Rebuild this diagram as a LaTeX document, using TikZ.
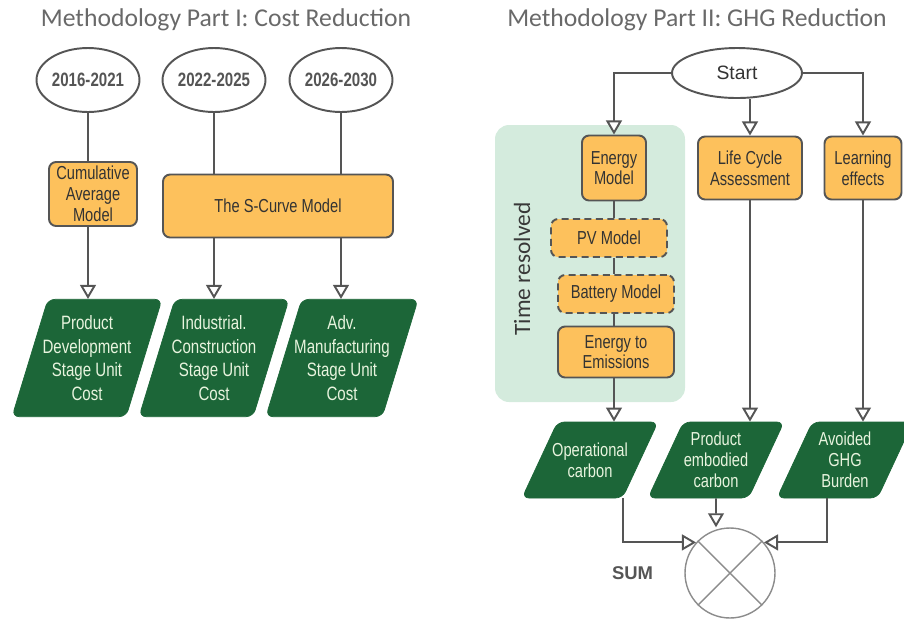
\documentclass[tikz,border=0pt]{standalone}
\usepackage{fontspec}
\setmainfont{Liberation Sans}
\newfontfamily\titlefont{Carlito}
\newfontfamily\boxfont{Liberation Sans}[FakeStretch=0.78]
\usetikzlibrary{arrows.meta,%
                shapes,positioning}
\definecolor{linegrey}{RGB}{85,85,85}
\definecolor{titlegrey}{RGB}{105,105,105}
\definecolor{boxorange}{RGB}{253,193,92}
\definecolor{costgreen}{RGB}{28,102,56}
\definecolor{costtext}{RGB}{232,244,222}
\definecolor{timegreen}{RGB}{212,235,221}

\begin{document}
\begin{tikzpicture}[x=0.02cm,y=-0.02cm,
  link/.style={draw=linegrey,line width=1.1pt},
  arr/.style={link,-{Triangle[fill=white,width=9pt,length=8pt]}},
  heading/.style={font=\titlefont\fontsize{14.6}{16}\selectfont,text=titlegrey},
  yearnode/.style={ellipse,draw=linegrey,line width=1.1pt,fill=white,inner sep=0pt,
    minimum width=2.06cm,minimum height=1.28cm,text=linegrey,
    font=\boxfont\bfseries\fontsize{11}{13}\selectfont},
  modelbox/.style={rectangle,rounded corners=4pt,draw=linegrey,line width=1.1pt,
    fill=boxorange,align=center,inner sep=1pt,text=black!80,
    font=\boxfont\fontsize{10.7}{11.8}\selectfont},
  dashbox/.style={modelbox,dashed,dash pattern=on 4pt off 2.5pt},
  costbox/.style={trapezium,trapezium left angle=73,trapezium right angle=107,
    trapezium stretches body,rounded corners=4pt,fill=costgreen,draw=costgreen,
    minimum width=3cm,minimum height=2.28cm,align=center,inner xsep=-0.15cm,inner ysep=0.32cm,
    text=costtext,font=\boxfont\fontsize{11}{13.5}\selectfont},
  carbonbox/.style={costbox,trapezium left angle=64,trapezium right angle=116,
    minimum width=2.72cm,minimum height=1.52cm,inner ysep=0.17cm,
    font=\boxfont\fontsize{10.7}{11.9}\selectfont},
  startnode/.style={ellipse,draw=linegrey,line width=1.1pt,fill=white,inner sep=0pt,
    minimum width=2.6cm,minimum height=1cm,text=black!80,
    font=\fontsize{11}{13}\selectfont},
  sumnode/.style={circle,draw=black!45,line width=0.8pt,minimum size=1.8cm,inner sep=0pt}]
\useasboundingbox (0,0) rectangle (904,620);

\node[heading] (head1) at (226,20) {Methodology Part I: Cost Reduction};
\node[heading] (head2) at (697,20) {Methodology Part II: GHG Reduction};

\node[yearnode] (y1) at (88,80) {2016-2021};
\node[yearnode] (y2) at (214,80) {2022-2025};
\node[yearnode] (y3) at (341,80) {2026-2030};
\node[modelbox,minimum width=1.76cm,minimum height=1.28cm] (cam) at (93,194) {Cumulative\\Average\\Model};
\node[modelbox,minimum width=4.6cm,minimum height=1.26cm] (scm) at (278,206) {The S-Curve Model};
\node[costbox] (c1) at (87,358) {Product\\Development\\Stage Unit\\Cost};
\node[costbox] (c2) at (214,358) {Industrial.\\Construction\\Stage Unit\\Cost};
\node[costbox] (c3) at (342,358) {Adv.\\Manufacturing\\Stage Unit\\Cost};

\draw[link] (y1) -- (y1 |- cam.north);
\draw[link] (y2) -- (y2 |- scm.north);
\draw[link] (y3) -- (y3 |- scm.north);
\draw[arr] (y1 |- cam.south) -- (y1 |- c1.north);
\draw[arr] (y2 |- scm.south) -- (y2 |- c2.north);
\draw[arr] (y3 |- scm.south) -- (y3 |- c3.north);

% time resolved block
\fill[timegreen,rounded corners=8pt] (495,125) rectangle (685,402);
\node[rotate=90,font=\titlefont\fontsize{13.3}{15}\selectfont,text=black!78] (trlabel) at (522,269) {Time resolved};

\node[startnode] (start) at (737,73) {Start};
\node[modelbox,minimum width=1.28cm,minimum height=1.3cm] (energy) at (614,168) {Energy\\Model};
\node[modelbox,minimum width=2.08cm,minimum height=1.26cm] (lca) at (750,168) {Life Cycle\\Assessment};
\node[modelbox,minimum width=1.54cm,minimum height=1.26cm] (learn) at (863,168) {Learning\\effects};
\node[dashbox,minimum width=2.32cm,minimum height=0.76cm] (pv) at (609,238) {PV Model};
\node[dashbox,minimum width=2.32cm,minimum height=0.76cm] (batt) at (616,294) {Battery Model};
\node[modelbox,minimum width=2.32cm,minimum height=1.02cm] (emis) at (616,352) {Energy to\\Emissions};
\node[carbonbox,inner ysep=0.38cm] (oc) at (590,460) {Operational\\carbon};
\node[carbonbox] (pe) at (716,460) {Product\\embodied\\carbon};
\node[carbonbox] (gb) at (845,460) {Avoided\\GHG\\Burden};
\node[sumnode] (sum) at (730,573) {};
\node[left=0.5cm of sum,font=\bfseries\fontsize{10.5}{12}\selectfont,text=linegrey] (sumlabel) {SUM};

\draw[arr] (start.west) -| (energy.north);
\draw[arr] (start.east) -| (learn.north);
\draw[arr] (lca.north |- start.south) -- (lca.north);
\draw[link] (energy) -- (energy |- pv.north);
\draw[link] (energy |- pv.south) -- (energy |- batt.north);
\draw[link] (energy |- batt.south) -- (energy |- emis.north);
\draw[arr] (energy |- emis.south) -- (energy |- oc.north);
\draw[arr] (lca) -- (lca |- pe.north);
\draw[arr] (learn) -- (learn |- gb.north);

\draw[arr] (oc.bottom right corner) |- (sum.138);
\draw[arr] (pe) -- (pe |- sum.north);
\draw[arr] (gb.bottom side) |- (sum.42);
\draw[draw=black!45,line width=0.8pt] (sum.45) -- (sum.225) (sum.135) -- (sum.315);

\end{tikzpicture}
\end{document}
